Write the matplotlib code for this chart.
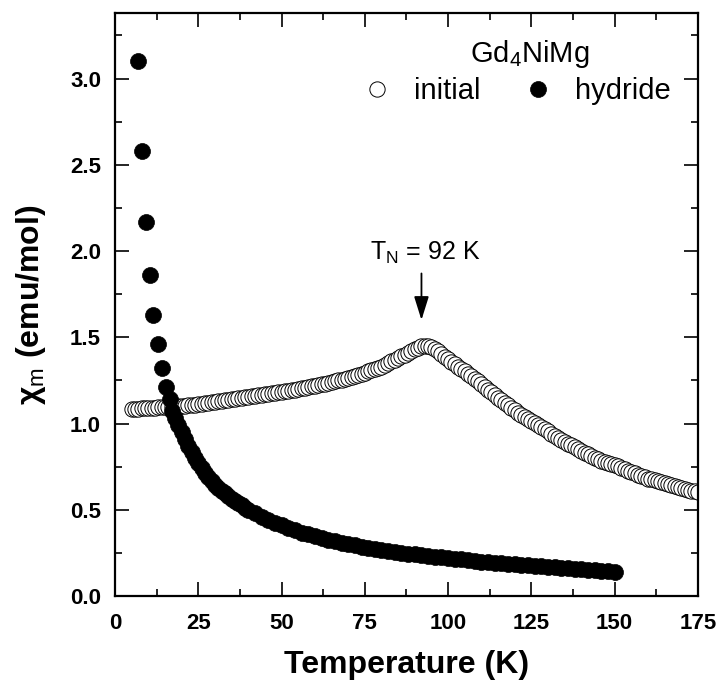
import numpy as np
import matplotlib
matplotlib.use('Agg')
import matplotlib.pyplot as plt
from matplotlib.ticker import MultipleLocator, FormatStrFormatter

plt.rcParams['font.family'] = ['Liberation Sans', 'DejaVu Sans']
plt.rcParams['mathtext.fontset'] = 'custom'
plt.rcParams['mathtext.rm'] = 'Liberation Sans'
plt.rcParams['mathtext.it'] = 'Liberation Sans:italic'
plt.rcParams['mathtext.bf'] = 'Liberation Sans:bold'

# initial sample: measured every 1 K from 5 K to 175 K
T_initial = np.arange(5, 176, 1)
chi_initial = [
    1.085, 1.086, 1.087, 1.088, 1.089, 1.090, 1.091, 1.092, 1.093, 1.094,
    1.095, 1.097, 1.098, 1.099, 1.100, 1.101, 1.103, 1.105, 1.107, 1.109,
    1.111, 1.114, 1.117, 1.120, 1.122, 1.125, 1.128, 1.131, 1.134, 1.137,
    1.140, 1.143, 1.146, 1.149, 1.152, 1.155, 1.158, 1.161, 1.164, 1.167,
    1.170, 1.173, 1.176, 1.179, 1.182, 1.185, 1.188, 1.191, 1.194, 1.197,
    1.200, 1.204, 1.208, 1.212, 1.216, 1.220, 1.224, 1.228, 1.232, 1.236,
    1.240, 1.245, 1.250, 1.255, 1.260, 1.265, 1.271, 1.277, 1.283, 1.289,
    1.295, 1.302, 1.309, 1.316, 1.323, 1.330, 1.340, 1.350, 1.360, 1.370,
    1.380, 1.390, 1.400, 1.410, 1.420, 1.430, 1.440, 1.448, 1.452, 1.450,
    1.443, 1.432, 1.418, 1.403, 1.388, 1.372, 1.358, 1.344, 1.330, 1.316,
    1.302, 1.288, 1.274, 1.259, 1.244, 1.229, 1.213, 1.197, 1.181, 1.165,
    1.150, 1.135, 1.120, 1.105, 1.090, 1.076, 1.063, 1.050, 1.038, 1.026,
    1.014, 1.002, 0.990, 0.978, 0.966, 0.954, 0.942, 0.930, 0.918, 0.906,
    0.895, 0.884, 0.873, 0.862, 0.851, 0.841, 0.831, 0.821, 0.811, 0.801,
    0.792, 0.785, 0.778, 0.771, 0.765, 0.759, 0.751, 0.743, 0.735, 0.727,
    0.719, 0.711, 0.703, 0.695, 0.688, 0.681, 0.676, 0.671, 0.666, 0.661,
    0.656, 0.650, 0.644, 0.638, 0.632, 0.626, 0.621, 0.616, 0.611, 0.606,
    0.601,
]

# hydride
T_hydride = [6.9, 8.0, 9.2, 10.4, 11.4, 12.8, 14.0, 15.3, 16.5,
             17, 18, 19, 20, 21, 22, 23, 24, 25, 26, 27, 28, 29, 30,
             31, 32, 33, 34, 35, 36, 37, 38, 39, 40,
             42, 44, 46, 48, 50, 52, 54, 56, 58, 60, 62, 64, 66, 68, 70,
             72, 74, 76, 78, 80, 82, 84, 86, 88, 90, 92, 94, 96, 98, 100,
             102, 104, 106, 108, 110, 112, 114, 116, 118, 120, 122, 124,
             126, 128, 130, 132, 134, 136, 138, 140, 142, 144, 146, 148, 150]
chi_hydride = [3.10, 2.58, 2.17, 1.86, 1.63, 1.46, 1.32, 1.21, 1.14,
               1.07, 1.03, 0.99, 0.95, 0.91, 0.87, 0.835, 0.80, 0.77, 0.74,
               0.715, 0.69, 0.667, 0.645, 0.627, 0.61, 0.595, 0.58, 0.565,
               0.55, 0.537, 0.525, 0.512, 0.50,
               0.48, 0.46, 0.44, 0.425, 0.41, 0.395, 0.38, 0.368, 0.357,
               0.346, 0.336, 0.326, 0.317, 0.308, 0.300, 0.293, 0.286,
               0.279, 0.273, 0.267, 0.261, 0.256, 0.251, 0.246, 0.241,
               0.236, 0.232, 0.228, 0.224, 0.220, 0.216, 0.212, 0.208,
               0.204, 0.200, 0.197, 0.194, 0.191, 0.188, 0.185, 0.182,
               0.179, 0.176, 0.173, 0.170, 0.167, 0.164, 0.161, 0.158,
               0.155, 0.153, 0.150, 0.147, 0.144, 0.141]

series_labels = ['initial', 'hydride']
compound = 'Gd$_4$NiMg'
T_N = 92
arrow_top, arrow_tip = 1.87, 1.60

fig = plt.figure(figsize=(7.16, 6.81), dpi=100)
ax = fig.add_axes([0.1606, 0.1248, 0.8142, 0.8561])

l_init, = ax.plot(T_initial, chi_initial, 'o', ls='none', ms=11.0,
                  mfc='white', mec='black', mew=0.7, label=series_labels[0])
l_hyd, = ax.plot(T_hydride, chi_hydride, 'o', ls='none', ms=11.5,
                 mfc='black', mec='black', mew=0.5, label=series_labels[1])

ax.set_xlim(0, 175)
ax.set_ylim(0, 3.38)
ax.xaxis.set_major_locator(MultipleLocator(25))
ax.xaxis.set_minor_locator(MultipleLocator(12.5))
ax.yaxis.set_major_locator(MultipleLocator(0.5))
ax.yaxis.set_minor_locator(MultipleLocator(0.25))
ax.yaxis.set_major_formatter(FormatStrFormatter('%.1f'))

ax.tick_params(which='both', direction='in', top=True, right=True, width=1.2)
ax.tick_params(which='major', length=10, labelsize=16)
ax.tick_params(axis='x', which='major', pad=12)
ax.tick_params(axis='y', which='major', pad=10)
ax.tick_params(which='minor', length=5)
for lab in ax.get_xticklabels() + ax.get_yticklabels():
    lab.set_fontweight('bold')
for sp in ax.spines.values():
    sp.set_linewidth(1.6)

ax.set_xlabel('Temperature (K)', fontsize=23, fontweight='bold', labelpad=12)
ax.set_ylabel('χ$_\\mathrm{m}$ (emu/mol)', fontsize=23, fontweight='bold', labelpad=16)

# Neel temperature marker
ax.annotate('', xy=(T_N, arrow_tip), xytext=(T_N, arrow_top),
            arrowprops=dict(arrowstyle='-|>,head_length=0.8,head_width=0.25',
                            color='black', lw=1.3, mutation_scale=18,
                            shrinkA=0, shrinkB=0))
ax.text(T_N + 1, 1.95, 'T$_\\mathrm{N}$ = %d K' % T_N, fontsize=18,
        ha='center', va='baseline')

# legend: compound name above a one-row legend
ax.text(0.712, 0.916, compound, transform=ax.transAxes, fontsize=21,
        ha='center', va='baseline')
leg = ax.legend(handles=[l_init, l_hyd], ncol=2, frameon=False,
                loc='upper left', bbox_to_anchor=(0.415, 0.90),
                fontsize=21, handlelength=1.0, handletextpad=0.74,
                columnspacing=1.5, borderpad=0.2, borderaxespad=0)

fig.savefig('out.png', dpi=100)
